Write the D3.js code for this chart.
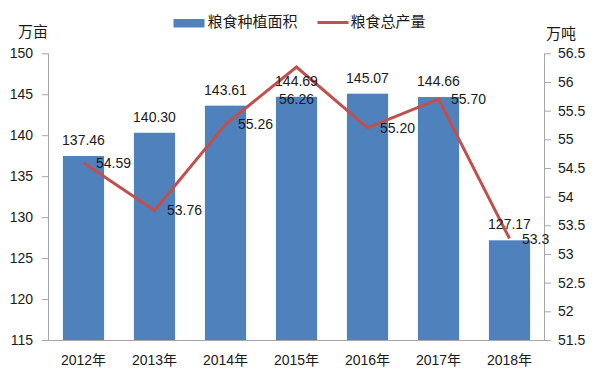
<!DOCTYPE html>
<html><head><meta charset="utf-8">
<script src="https://cdn.jsdelivr.net/npm/d3@7"></script>
<style>
body{margin:0;background:#fff;}
svg{display:block;}
</style></head>
<body>
<svg id="c" width="596" height="381"></svg>
<script>
const years = ["2012年","2013年","2014年","2015年","2016年","2017年","2018年"];
const areaValues = [137.46,140.30,143.61,144.69,145.07,144.66,127.17];
const areaLabels = ["137.46","140.30","143.61","144.69","145.07","144.66","127.17"];
const outputValues = [54.59,53.76,55.26,56.26,55.20,55.70,53.27];
const outputLabels = ["54.59","53.76","55.26","56.26","55.20","55.70","53.3"];
const leftTicks = [115,120,125,130,135,140,145,150];
const rightTicks = [51.5,52,52.5,53,53.5,54,54.5,55,55.5,56,56.5];
const seriesNames = ["粮食种植面积","粮食总产量"];
const unitNames = ["万亩","万吨"];

const svg = d3.select("#c");
const L = 48, R = 545, T = 53.3, B = 340;
const numFont = "Liberation Sans, Arial, sans-serif";
const cjkFont = "Noto Sans CJK SC, sans-serif";
const blue = "#4F81BD", red = "#C0504D", axisCol = "#A6A6A6", txt = "#1a1a1a";

const x = d3.scaleBand().domain(years).range([L, R]).paddingInner(0.42).paddingOuter(0.21);
const yL = d3.scaleLinear().domain([115,150]).range([B, T]);
const yR = d3.scaleLinear().domain([51.5,56.5]).range([B, T]);

// bars
svg.append("g").selectAll("rect").data(years).join("rect")
  .attr("x", d => x(d)).attr("width", x.bandwidth())
  .attr("y", (d,i) => yL(areaValues[i])).attr("height", (d,i) => B - yL(areaValues[i]))
  .attr("fill", blue);

// axes
const gl = svg.append("g").attr("transform", `translate(${L},0)`)
  .call(d3.axisLeft(yL).tickValues(leftTicks).tickSize(6).tickPadding(9).tickFormat(d3.format("d")));
const gr = svg.append("g").attr("transform", `translate(${R},0)`)
  .call(d3.axisRight(yR).tickValues(rightTicks).tickSize(6).tickPadding(7).tickFormat(d => String(d)));
const gb = svg.append("g").attr("transform", `translate(0,${B})`)
  .call(d3.axisBottom(x).tickSize(0).tickPadding(15));
[gl,gr,gb].forEach(g => {
  g.select(".domain").attr("stroke", axisCol);
  g.selectAll(".tick line").attr("stroke", axisCol);
  g.selectAll("text").attr("fill", txt).style("font-family", numFont).style("font-size", "14px");
});
gb.select(".domain").attr("d", `M${L},0.5H${R}`);
gl.select(".domain").attr("d", `M0.5,${T}V${B}`);
gr.select(".domain").attr("d", `M-0.5,${T}V${B}`);
gb.selectAll("text").style("font-family", "Liberation Sans, Arial, Noto Sans CJK SC, sans-serif");

// line
const cx = d => x(d) + x.bandwidth()/2;
const line = d3.line().x((d,i) => cx(years[i])).y(d => yR(d));
svg.append("path").datum(outputValues).attr("d", line)
  .attr("fill","none").attr("stroke", red).attr("stroke-width", 3).attr("stroke-linejoin","miter");

// bar labels
svg.append("g").selectAll("text").data(years).join("text")
  .attr("x", d => cx(d)).attr("y", (d,i) => yL(areaValues[i]) - 11)
  .attr("text-anchor","middle").attr("fill", txt)
  .style("font-family", numFont).style("font-size","14px")
  .text((d,i) => areaLabels[i]);

// line labels
svg.append("g").selectAll("text").data(years).join("text")
  .attr("x", (d,i) => i === 3 ? cx(d) : cx(d) + 12.5)
  .attr("y", (d,i) => i === 3 ? yR(outputValues[i]) + 37 : yR(outputValues[i]) + 5)
  .attr("text-anchor", (d,i) => i === 3 ? "middle" : "start").attr("fill", txt)
  .style("font-family", numFont).style("font-size","14px")
  .text((d,i) => outputLabels[i]);

// unit titles
svg.append("text").attr("x", 18).attr("y", 37).attr("fill", txt)
  .style("font-family", cjkFont).style("font-size","15px").text(unitNames[0]);
svg.append("text").attr("x", 546).attr("y", 39).attr("fill", txt)
  .style("font-family", cjkFont).style("font-size","15px").text(unitNames[1]);

// legend
svg.append("rect").attr("x",173.5).attr("y",19).attr("width",31).attr("height",8.5).attr("fill",blue);
svg.append("text").attr("x",207.5).attr("y",27).attr("fill",txt)
  .style("font-family",cjkFont).style("font-size","15px").text(seriesNames[0]);
svg.append("line").attr("x1",317.5).attr("x2",348.5).attr("y1",22.5).attr("y2",22.5)
  .attr("stroke",red).attr("stroke-width",3);
svg.append("text").attr("x",350.5).attr("y",27).attr("fill",txt)
  .style("font-family",cjkFont).style("font-size","15px").text(seriesNames[1]);
</script>
</body></html>
